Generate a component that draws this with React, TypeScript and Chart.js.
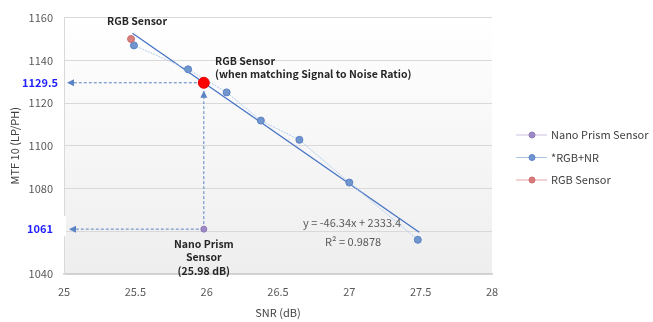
import React, { useEffect, useRef } from "react";
import { Chart, registerables } from "chart.js";

Chart.register(...registerables);

const rgbNrSnr = [25.49, 25.87, 26.14, 26.38, 26.65, 27.0, 27.48];
const rgbNrMtf = [1147, 1135.8, 1125, 1111.8, 1102.8, 1082.8, 1056];
const rgbSnr = [25.47];
const rgbMtf = [1150];
const nanoSnr = [25.98];
const nanoMtf = [1061];
const matchSnr = [25.98];
const matchMtf = [1129.5];
const trendSlope = -46.34;
const trendIntercept = 2333.4;
const trendRange = [25.48, 27.49];
const xTicks = [25, 25.5, 26, 26.5, 27, 27.5, 28];
const yTicks = [1040, 1060, 1080, 1100, 1120, 1140, 1160];

const FONT = "'Noto Sans CJK KR', 'Noto Sans', sans-serif";

const toPts = (xs: number[], ys: number[]) => xs.map((x, i) => ({ x, y: ys[i] }));

export default function App() {
  const ref = useRef<HTMLCanvasElement | null>(null);
  useEffect(() => {
    document.body.style.margin = "0";
    const canvas = ref.current!;
    const bgPlugin = {
      id: "bg",
      beforeDraw(chart: any) {
        const { ctx, chartArea: a } = chart;
        const g = ctx.createLinearGradient(0, a.top, 0, a.bottom);
        g.addColorStop(0, "#ffffff");
        g.addColorStop(1, "#eeeeee");
        ctx.save();
        ctx.fillStyle = g;
        ctx.fillRect(a.left, a.top, a.right - a.left, a.bottom - a.top);
        ctx.restore();
      },
    };
    const arrow = (ctx: any, x1: number, y1: number, x2: number, y2: number) => {
      ctx.save();
      ctx.strokeStyle = "#5b84c4";
      ctx.fillStyle = "#5b84c4";
      ctx.lineWidth = 1;
      ctx.setLineDash([3, 2]);
      ctx.beginPath();
      ctx.moveTo(x1, y1);
      ctx.lineTo(x2, y2);
      ctx.stroke();
      ctx.setLineDash([]);
      const ang = Math.atan2(y2 - y1, x2 - x1);
      const L = 7, W = 3.5;
      ctx.beginPath();
      ctx.moveTo(x2, y2);
      ctx.lineTo(x2 - L * Math.cos(ang) + W * Math.sin(ang), y2 - L * Math.sin(ang) - W * Math.cos(ang));
      ctx.lineTo(x2 - L * Math.cos(ang) - W * Math.sin(ang), y2 - L * Math.sin(ang) + W * Math.cos(ang));
      ctx.closePath();
      ctx.fill();
      ctx.restore();
    };
    const arrowPlugin = {
      id: "arrows",
      beforeDatasetsDraw(chart: any) {
        const { ctx, scales } = chart;
        const xs = scales.x, ys = scales.y;
        const mx = xs.getPixelForValue(matchSnr[0]);
        const my = ys.getPixelForValue(matchMtf[0]);
        const nx = xs.getPixelForValue(nanoSnr[0]);
        const ny = ys.getPixelForValue(nanoMtf[0]);
        ctx.save();
        ctx.fillStyle = "#ffffff";
        ctx.fillRect(0, ny - 13, 66, 20);
        ctx.restore();
        arrow(ctx, mx - 7, my, 67, my);
        arrow(ctx, nx - 5, ny, 69, ny);
        arrow(ctx, nx, ny - 5, nx, my + 8);
      },
    };
    const annoPlugin = {
      id: "anno",
      afterDatasetsDraw(chart: any) {
        const { ctx, scales } = chart;
        const xs = scales.x, ys = scales.y;
        const my = ys.getPixelForValue(matchMtf[0]);
        const nx = xs.getPixelForValue(nanoSnr[0]);
        const ny = ys.getPixelForValue(nanoMtf[0]);
        ctx.save();
        ctx.textBaseline = "middle";
        ctx.font = `bold 11px ${FONT}`;
        ctx.fillStyle = "#1f1fff";
        ctx.textAlign = "right";
        ctx.fillText("1129.5", 58, my);
        ctx.fillText("1061", 53, ny);
        ctx.font = `bold 10.5px ${FONT}`;
        ctx.fillStyle = "#262626";
        ctx.textAlign = "center";
        ctx.fillText("RGB Sensor", 137, 21);
        ctx.fillText("Nano Prism", nx, 244);
        ctx.fillText("Sensor", nx, 257);
        ctx.fillText("(25.98 dB)", nx, 271);
        ctx.textAlign = "left";
        ctx.fillText("RGB Sensor", 215, 61);
        ctx.fillText("(when matching Signal to Noise Ratio)", 215, 74);
        ctx.font = `11px ${FONT}`;
        ctx.fillStyle = "#595959";
        ctx.fillText("y = -46.34x + 2333.4", 303, 223);
        ctx.fillText("R\u00B2 = 0.9878", 325, 242);
        ctx.textAlign = "center";
        ctx.fillStyle = "#404040";
        ctx.fillText("SNR (dB)", (xs.left + xs.right) / 2, 313);
        ctx.save();
        ctx.translate(15, (ys.top + ys.bottom) / 2);
        ctx.rotate(-Math.PI / 2);
        ctx.fillText("MTF 10 (LP/PH)", 0, 0);
        ctx.restore();
        const items = [
          { label: "Nano Prism Sensor", line: "#cdbfe0", fill: "#9d89c4", stroke: "#8f7ab8" },
          { label: "*RGB+NR", line: "#aac4e8", fill: "#6f94d0", stroke: "#5d82c2" },
          { label: "RGB Sensor", line: "#e6a6a6", fill: "#d97b7b", stroke: "#c86a6a" },
        ];
        items.forEach((it, i) => {
          const y = 135 + i * 22.5;
          ctx.strokeStyle = it.line;
          ctx.lineWidth = 1;
          ctx.beginPath();
          ctx.moveTo(516, y);
          ctx.lineTo(547, y);
          ctx.stroke();
          ctx.beginPath();
          ctx.arc(532, y, 3, 0, Math.PI * 2);
          ctx.fillStyle = it.fill;
          ctx.fill();
          ctx.strokeStyle = it.stroke;
          ctx.stroke();
          ctx.fillStyle = "#404040";
          ctx.textAlign = "left";
          ctx.fillText(it.label, 551, y);
        });
        ctx.restore();
      },
    };
    const chart = new Chart(canvas, {
      type: "scatter",
      data: {
        datasets: [
          {
            label: "trend",
            type: "line",
            order: 10,
            data: trendRange.map((x) => ({ x, y: trendSlope * x + trendIntercept })),
            borderColor: "#4472c4",
            borderWidth: 1.3,
            pointRadius: 0,
            fill: false,
          } as any,
          {
            label: "*RGB+NR",
            type: "line",
            order: 5,
            data: toPts(rgbNrSnr, rgbNrMtf),
            borderColor: "rgba(170,198,234,0.9)",
            borderWidth: 1,
            borderDash: [2, 1],
            pointRadius: 3.5,
            pointBackgroundColor: "#7096d0",
            pointBorderColor: "#5b82c2",
            pointBorderWidth: 1,
            fill: false,
          } as any,
          {
            label: "RGB Sensor",
            order: 3,
            data: toPts(rgbSnr, rgbMtf),
            pointRadius: 3.5,
            pointBackgroundColor: "#d98080",
            pointBorderColor: "#c87070",
          },
          {
            label: "Nano Prism Sensor",
            order: 2,
            data: toPts(nanoSnr, nanoMtf),
            pointRadius: 3,
            pointBackgroundColor: "#9d89c4",
            pointBorderColor: "#8f7ab8",
          },
          {
            label: "match",
            order: 0,
            data: toPts(matchSnr, matchMtf),
            pointRadius: 5.5,
            pointBackgroundColor: "#ff0000",
            pointBorderColor: "#e00000",
          },
        ],
      },
      options: {
        animation: false,
        responsive: false,
        layout: { padding: { top: 13, right: 161, left: 0, bottom: 0 } },
        plugins: { legend: { display: false }, tooltip: { enabled: false } },
        scales: {
          x: {
            type: "linear",
            min: 25,
            max: 28,
            afterFit: (s: any) => { s.height = 48; },
            afterBuildTicks: (s: any) => { s.ticks = xTicks.map((v) => ({ value: v })); },
            grid: { display: false, drawTicks: false },
            border: { display: true, color: "#d0d0d0", width: 1.5 },
            ticks: {
              padding: 11, color: "#595959", font: { family: FONT, size: 11 }, maxRotation: 0,
              callback: (v: any) => String(v),
            },
          },
          y: {
            type: "linear",
            min: 1040,
            max: 1160,
            afterFit: (s: any) => { s.width = 64; },
            afterBuildTicks: (s: any) => { s.ticks = yTicks.map((v) => ({ value: v })); },
            grid: { color: "#d9d9d9", drawTicks: false },
            border: { display: true, color: "#d9d9d9" },
            ticks: {
              padding: 11, color: "#595959", font: { family: FONT, size: 11 },
              callback: (v: any) => String(v),
            },
          },
        },
      },
      plugins: [bgPlugin, arrowPlugin, annoPlugin],
    } as any);
    return () => chart.destroy();
  }, []);
  return (
    <div style={{ width: 653, height: 322, background: "#fff" }}>
      <canvas ref={ref} width={653} height={322} style={{ display: "block" }} />
    </div>
  );
}
